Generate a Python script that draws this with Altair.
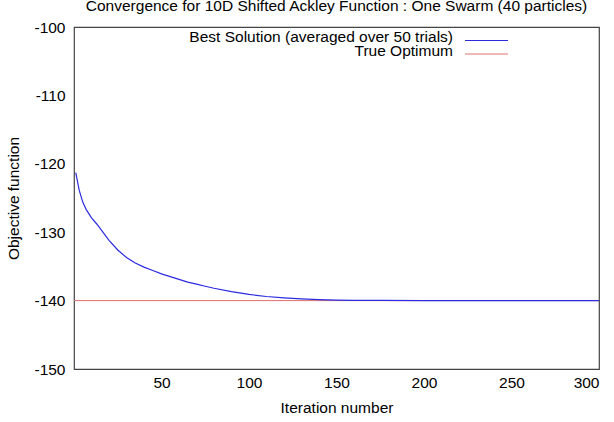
import altair as alt
import pandas as pd

iterations = [1, 3, 5, 7, 10, 13, 16, 20, 25, 30, 35, 40, 45, 50, 55, 60, 65, 70, 75, 80,
              90, 100, 110, 120, 130, 140, 150, 160, 175, 200, 225, 250, 275, 300]
best = [-121.3, -123.9, -125.6, -126.7, -127.9, -128.8, -129.8, -131.2, -132.6, -133.7,
        -134.5, -135.1, -135.6, -136.1, -136.5, -136.9, -137.3, -137.6, -137.9, -138.2,
        -138.7, -139.1, -139.4, -139.6, -139.75, -139.85, -139.92, -139.96, -139.98,
        -140.0, -140.0, -140.0, -140.0, -140.0]
optimum_value = -140
x_ticks = [50, 100, 150, 200, 250, 300]
y_ticks = [-150, -140, -130, -120, -110, -100]
legend_labels = ["Best Solution (averaged over 50 trials)", "True Optimum"]
colors = ["#2b2be0", "#e07070"]
title_text = "Convergence for 10D Shifted Ackley Function : One Swarm (40 particles)"

FONT = "Liberation Sans"
FS = 15.5
W, H = 525, 342

df = pd.DataFrame({"iter": iterations, "val": best})
opt_df = pd.DataFrame({"iter": [0, 300], "val": [optimum_value, optimum_value]})

xs = alt.Scale(domain=[0, 300], nice=False)
ys = alt.Scale(domain=[-150, -100], nice=False)

common = dict(grid=False, ticks=False, domain=False, labelExpr="'' + datum.value",
              labelFont=FONT, labelFontSize=FS, labelColor="#000",
              titleFont=FONT, titleFontSize=FS, titleFontWeight="normal", titleColor="#000")
xax = alt.Axis(values=x_ticks, labelPadding=6, titlePadding=10, **common)
yax = alt.Axis(values=y_ticks, labelPadding=9, titlePadding=12, **common)

opt_line = alt.Chart(opt_df).mark_line(color=colors[1], strokeWidth=1).encode(
    x=alt.X("iter:Q", scale=xs, title="Iteration number", axis=xax),
    y=alt.Y("val:Q", scale=ys, title="Objective function", axis=yax),
)

best_line = alt.Chart(df).mark_line(color=colors[0], strokeWidth=1.2).encode(
    x=alt.X("iter:Q", scale=xs, title="Iteration number", axis=xax),
    y=alt.Y("val:Q", scale=ys, title="Objective function", axis=yax),
)

leg_df = pd.DataFrame({"label": legend_labels, "color": colors, "row": [0, 1]})
legend_layers = []
for i in range(len(legend_labels)):
    base = alt.Chart(leg_df).transform_filter(alt.datum.row == i)
    legend_layers.append(
        base.mark_text(align="right", baseline="alphabetic", font=FONT, fontSize=FS,
                       color="#000").encode(x=alt.value(379), y=alt.value(15 + 14 * i),
                                            text="label:N")
    )
    legend_layers.append(
        base.mark_rule(strokeWidth=1, color=colors[i]).encode(
            x=alt.value(391), x2=alt.value(434), y=alt.value(13.5 + 13.5 * i))
    )

title = alt.Chart(pd.DataFrame({"t": [title_text]})).mark_text(
    align="center", baseline="alphabetic", font=FONT, fontSize=FS, color="#000"
).encode(x=alt.value(W / 2), y=alt.value(-16), text="t:N")

chart = alt.layer(opt_line, best_line, *legend_layers, title).properties(
    width=W, height=H,
    background="white",
    autosize=alt.AutoSizeParams(type="none"),
    padding={"left": 74, "top": 27, "right": 15, "bottom": 53},
).configure_view(stroke="#444", strokeWidth=1.2)

chart.save("out.html", embed_options={"renderer": "svg", "actions": False})
